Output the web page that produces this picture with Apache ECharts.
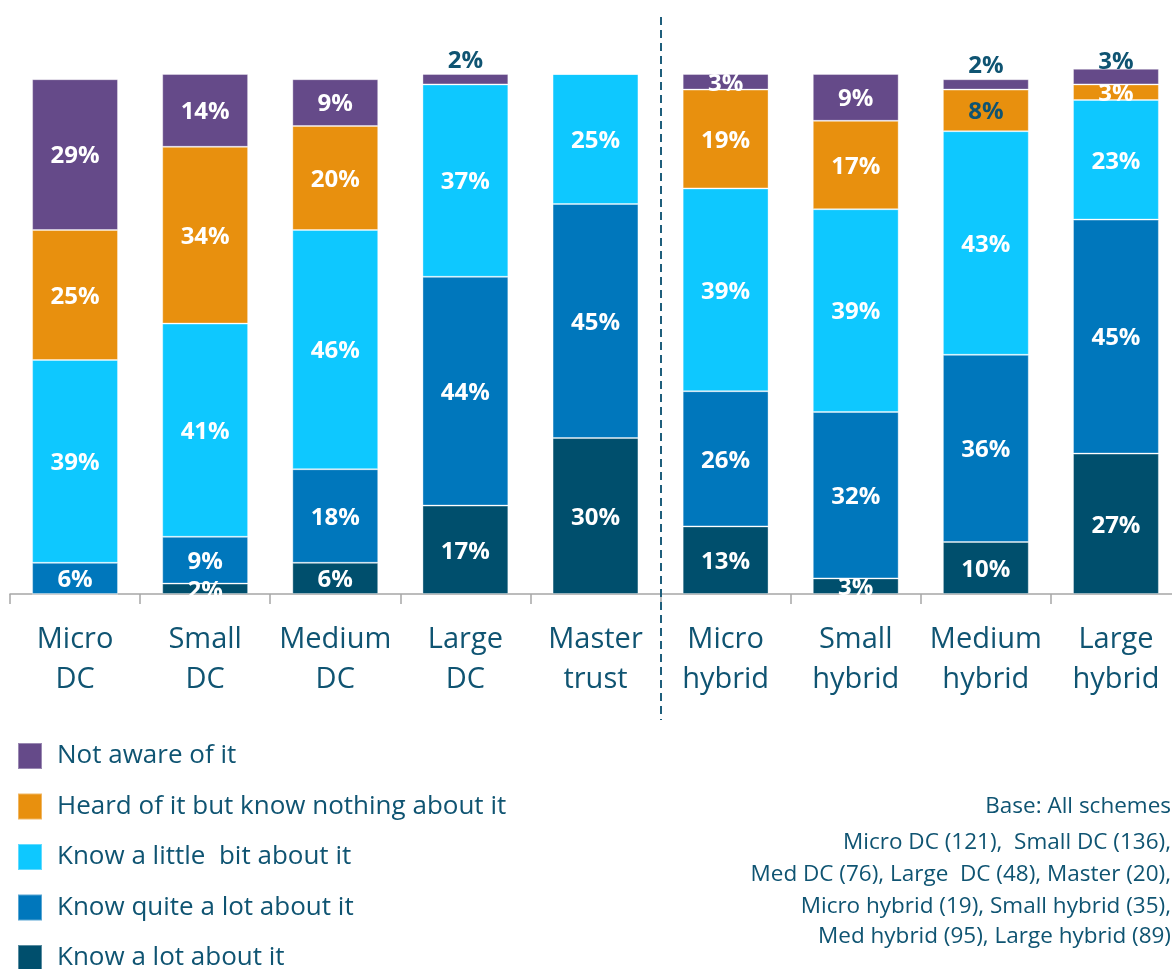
<!DOCTYPE html>
<html>
<head>
<meta charset="utf-8">
<script src="https://cdn.jsdelivr.net/npm/echarts@6/dist/echarts.min.js"></script>
<style>
  html, body { margin: 0; padding: 0; background: #ffffff; }
  #chart { width: 1172px; height: 969px; }
</style>
</head>
<body>
<div id="chart"></div>
<script>
// Scheme types along the x axis
const categories = ['Micro\nDC', 'Small\nDC', 'Medium\nDC', 'Large\nDC', 'Master\ntrust',
                    'Micro\nhybrid', 'Small\nhybrid', 'Medium\nhybrid', 'Large\nhybrid'];

// Awareness shares (%) per scheme type, bottom of the stack first
const knowALot      = [0, 2, 6, 17, 30, 13, 3, 10, 27];
const knowQuiteALot = [6, 9, 18, 44, 45, 26, 32, 36, 45];
const knowALittle   = [39, 41, 46, 37, 25, 39, 39, 43, 23];
const heardNothing  = [25, 34, 20, 0, 0, 19, 17, 8, 3];
const notAware      = [29, 14, 9, 2, 0, 3, 9, 2, 3];

const seriesNames = ['Know a lot about it', 'Know quite a lot about it', 'Know a little  bit about it',
                     'Heard of it but know nothing about it', 'Not aware of it'];
const legendOrder = ['Not aware of it', 'Heard of it but know nothing about it', 'Know a little  bit about it',
                     'Know quite a lot about it', 'Know a lot about it'];

// Sample sizes shown in the footnote
const baseLines = ['Base: All schemes',
                   'Micro DC (121),  Small DC (136),',
                   'Med DC (76), Large  DC (48), Master (20),',
                   'Micro hybrid (19), Small hybrid (35),',
                   'Med hybrid (95), Large hybrid (89)'];

const colors = ['#004F6D', '#0077BC', '#0EC8FF', '#E8900E', '#654A89'];
const textDark = '#0F5472';
const font = 'Open Sans';

// Small top segments get their label above the bar; a few labels use dark text
const labelAboveFor = ['Large\nDC', 'Medium\nhybrid', 'Large\nhybrid'];
const labelAboveGap = [3, 3, -3];
const darkLabelFor = { 3: ['Medium\nhybrid'] };

function buildData(values, seriesIdx) {
  return values.map((v, i) => {
    const item = { value: v };
    const cat = categories[i];
    const aboveIdx = labelAboveFor.indexOf(cat);
    if (seriesIdx === 4 && aboveIdx >= 0) {
      item.label = { position: 'top', color: textDark, distance: labelAboveGap[aboveIdx] };
    } else if (darkLabelFor[seriesIdx] && darkLabelFor[seriesIdx].includes(cat)) {
      item.label = { color: textDark };
    }
    return item;
  });
}

const allValues = [knowALot, knowQuiteALot, knowALittle, heardNothing, notAware];

const series = allValues.map((vals, k) => ({
  name: seriesNames[k],
  type: 'bar',
  stack: 'total',
  barWidth: '66%',
  data: buildData(vals, k),
  itemStyle: { color: colors[k], borderColor: 'rgba(255,255,255,0.35)', borderWidth: 1 },
  label: {
    show: true,
    position: 'inside',
    color: '#ffffff',
    fontFamily: font,
    fontWeight: 'bold',
    fontSize: 24,
    offset: [0, 2],
    formatter: p => (p.value ? p.value + '%' : '')
  },
  emphasis: { disabled: true }
}));

// One legend block per entry, stacked down the lower-left corner
const legends = legendOrder.map((name, i) => ({
  data: [name],
  orient: 'vertical',
  left: 17,
  top: 742 + i * 50.5,
  padding: 0,
  icon: 'rect',
  itemWidth: 24,
  itemHeight: 26,
  selectedMode: false,
  textStyle: { color: textDark, fontFamily: font, fontSize: 26, padding: [0, 0, 0, 10] }
}));

const chart = echarts.init(document.getElementById('chart'), null, { renderer: 'canvas' });

const footnote = baseLines.map((t, i) => ({
  type: 'text',
  right: 1,
  top: [795, 831, 863, 895, 925][i],
  style: { text: t, fontFamily: font, fontSize: 22.5, fill: textDark, textAlign: 'right' }
}));

chart.setOption({
  animation: false,
  backgroundColor: '#ffffff',
  grid: { left: 10, right: -9, top: 22, bottom: 375, outerBoundsMode: 'none' },
  xAxis: {
    type: 'category',
    data: categories,
    axisLine: { lineStyle: { color: '#A6A6A6', width: 1.5 } },
    axisTick: { show: true, length: 10, lineStyle: { color: '#A6A6A6', width: 1.5 } },
    axisLabel: {
      color: textDark, fontFamily: font, fontSize: 29, lineHeight: 40, margin: 26, interval: 0
    }
  },
  yAxis: { type: 'value', min: 0, max: 110, show: false, splitLine: { show: false } },
  legend: legends,
  series: series,
  graphic: footnote
});

// Dashed divider between the DC group and the hybrid group, at the category boundary
const xLeft = chart.convertToPixel({ xAxisIndex: 0 }, categories[4]);
const xRight = chart.convertToPixel({ xAxisIndex: 0 }, categories[5]);
const xDiv = Math.round((xLeft + xRight) / 2);
chart.setOption({
  graphic: footnote.concat([{
    type: 'line',
    shape: { x1: xDiv, y1: 17, x2: xDiv, y2: 720 },
    style: { stroke: '#1F5F7C', lineWidth: 2, lineDash: [8, 5] },
    z: 10
  }])
});
</script>
</body>
</html>
